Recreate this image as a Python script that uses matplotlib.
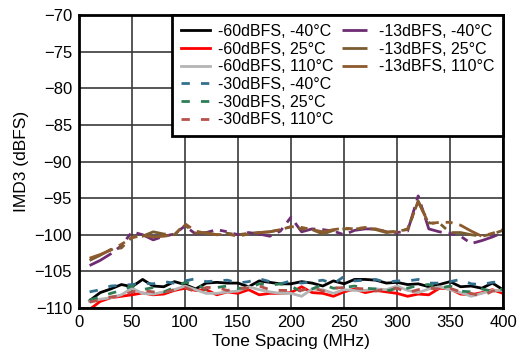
import matplotlib
matplotlib.use("Agg")
import matplotlib.pyplot as plt
from matplotlib.lines import Line2D

plt.rcParams['font.family'] = ['Liberation Sans', 'DejaVu Sans']

x = list(range(10, 401, 10))

m60_n40 = [-109.0, -107.9, -107.4, -106.8, -107.1, -106.1, -107.0, -107.1, -106.4, -106.8,
           -107.4, -106.6, -106.5, -106.6, -106.6, -107.1, -106.3, -106.5, -106.7, -106.7,
           -106.4, -106.6, -107.0, -106.3, -106.7, -106.1, -106.1, -106.2, -106.6, -106.5,
           -106.8, -106.7, -107.1, -106.8, -106.4, -107.1, -107.0, -107.3, -106.6, -107.5]
m60_25 = [-110.2, -109.1, -108.6, -108.4, -108.2, -107.95, -108.2, -108.1, -107.6, -107.3,
          -107.6, -107.5, -108.2, -107.8, -108.0, -107.5, -108.2, -108.0, -108.0, -107.9,
          -107.1, -107.9, -108.0, -108.4, -107.8, -107.4, -107.9, -107.6, -107.8, -108.0,
          -108.4, -108.1, -108.2, -107.3, -107.4, -108.1, -108.2, -107.9, -107.5, -108.0]
m60_110 = [-109.1, -108.8, -108.6, -108.2, -107.3, -108.0, -108.1, -107.8, -107.5, -107.0,
           -107.5, -108.0, -108.0, -107.8, -107.7, -107.1, -107.5, -107.8, -108.0, -108.0,
           -108.4, -107.4, -107.5, -108.0, -107.5, -107.6, -107.6, -107.4, -107.5, -107.0,
           -107.6, -107.9, -107.4, -107.1, -107.5, -107.9, -108.4, -108.0, -107.6, -107.6]
m30_n40 = [-107.8, -107.5, -107.0, -106.9, -106.8, -106.6, -106.7, -106.4, -106.6, -106.3,
           -106.0, -106.4, -106.3, -106.2, -106.6, -106.4, -106.0, -106.4, -106.7, -106.3,
           -106.6, -106.4, -106.2, -106.7, -105.7, -106.3, -106.2, -106.1, -106.5, -106.3,
           -106.3, -106.1, -106.6, -106.6, -106.4, -106.1, -106.7, -106.8, -106.5, -106.4]
m30_25 = [-108.9, -108.5, -108.0, -107.6, -107.0, -107.5, -107.2, -107.8, -107.2, -106.5,
          -106.7, -107.5, -107.2, -107.0, -107.3, -107.3, -106.7, -106.9, -106.7, -107.0,
          -107.8, -107.4, -106.8, -107.3, -107.2, -107.0, -107.3, -107.4, -107.7, -107.3,
          -107.3, -106.9, -106.8, -107.3, -107.0, -107.7, -107.8, -107.4, -107.7, -107.4]
m30_110 = [-109.2, -108.9, -108.5, -108.3, -107.8, -107.6, -107.8, -107.9, -107.5, -107.2,
           -107.8, -107.2, -107.2, -107.6, -107.3, -107.3, -107.0, -107.5, -107.6, -107.6,
           -107.6, -107.2, -107.7, -107.3, -107.2, -107.3, -107.4, -107.7, -107.4, -107.3,
           -107.9, -107.5, -107.3, -107.4, -107.3, -107.8, -108.0, -108.4, -107.7, -107.6]
m13_n40 = [-104.2, -103.5, -102.6, -101.5, -99.6, -100.0, -100.7, -100.2, -99.9, -98.8,
           -99.9, -99.7, -99.3, -99.6, -100.0, -99.7, -99.9, -100.2, -99.5, -97.6,
           -99.6, -99.2, -99.3, -99.5, -100.0, -99.4, -99.2, -99.2, -99.6, -99.7,
           -99.5, -94.7, -99.2, -99.6, -99.8, -100.2, -101.2, -100.8, -100.3, -99.7]
m13_25 = [-103.5, -102.8, -102.0, -101.8, -100.3, -100.2, -99.6, -99.9, -100.0, -98.7,
          -99.8, -99.7, -100.0, -99.8, -100.0, -99.8, -99.7, -99.6, -99.3, -98.9,
          -99.2, -99.3, -99.9, -99.4, -99.2, -99.2, -99.1, -99.3, -99.7, -99.5,
          -99.3, -95.4, -98.4, -98.4, -99.7, -99.7, -100.0, -100.2, -99.9, -99.4]
m13_110 = [-103.2, -102.7, -102.1, -101.3, -100.4, -100.1, -100.3, -100.2, -100.0, -98.5,
           -99.5, -99.8, -100.0, -99.9, -100.2, -99.9, -99.7, -99.6, -99.3, -98.9,
           -99.0, -99.3, -99.6, -99.3, -99.1, -99.2, -99.0, -99.2, -99.6, -99.6,
           -99.2, -95.5, -98.5, -98.3, -98.3, -98.7, -99.5, -100.2, -99.8, -99.3]

labels = ['-60dBFS, -40°C', '-60dBFS, 25°C', '-60dBFS, 110°C',
          '-30dBFS, -40°C', '-30dBFS, 25°C', '-30dBFS, 110°C',
          '-13dBFS, -40°C', '-13dBFS, 25°C', '-13dBFS, 110°C']
series = [m60_n40, m60_25, m60_110, m30_n40, m30_25, m30_110, m13_n40, m13_25, m13_110]
colors = ['#000000', '#FF0000', '#B4B4B4',
          '#33708F', '#2E7D56', '#B5524C',
          '#6E2C72', '#7A5C30', '#8C5A2C']
dash30 = (0, (3, 4))
dash13 = (0, (9, 2.5, 2.5, 2.5, 2.5, 2.5))
styles = ['-', '-', '-', dash30, dash30, dash30, dash13, dash13, dash13]

fig = plt.figure(figsize=(5.28, 3.56), dpi=100)
ax = fig.add_axes([79/528, 1 - 308/356, (503-79)/528, (308-15)/356])

handles = []
for s, lab, c, ls in zip(series, labels, colors, styles):
    h, = ax.plot(x, s, color=c, linestyle=ls, linewidth=2, label=lab)
    handles.append(h)

blank = Line2D([], [], linestyle='none')
leg_handles = handles + [blank, blank, blank]
leg_labels = labels + ['', '', '']

ax.set_xlim(0, 400)
ax.set_ylim(-110, -70)
ax.set_xticks(range(0, 401, 50))
ax.set_yticks(range(-110, -69, 5))
ax.grid(True, color='#3a3a3a', linewidth=1.2)
ax.set_axisbelow(True)
for sp in ax.spines.values():
    sp.set_linewidth(2)
    sp.set_color('#000000')
ax.tick_params(length=0, labelsize=12, pad=5)
ax.set_xlabel('Tone Spacing (MHz)', fontsize=12.5, labelpad=3)
ax.set_ylabel('IMD3 (dBFS)', fontsize=12.5, labelpad=4)

leg = ax.legend(leg_handles, leg_labels, ncol=2, loc='upper right', fontsize=11.5,
                frameon=True, fancybox=False,
                borderaxespad=0.0, handlelength=1.8, columnspacing=0.55,
                labelspacing=0.17, handletextpad=0.5, borderpad=0.55)
leg.get_frame().set_edgecolor('black')
leg.get_frame().set_linewidth(2)
leg.get_frame().set_alpha(1)

fig.savefig('out.png', dpi=100)
